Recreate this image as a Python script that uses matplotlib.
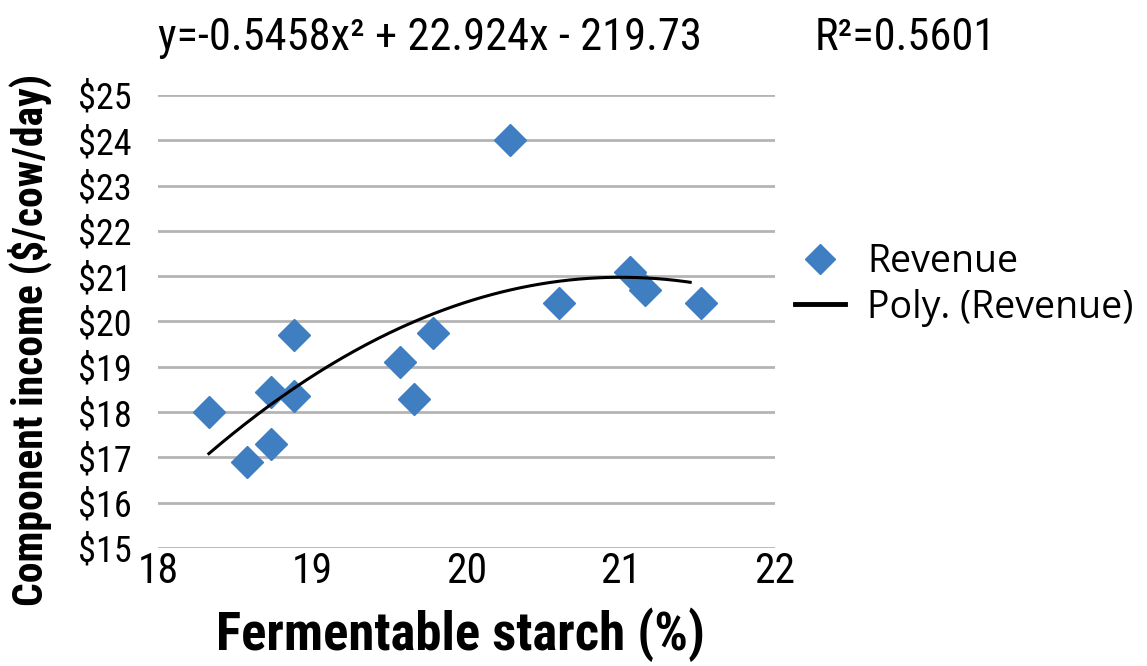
import numpy as np
import matplotlib
matplotlib.use("Agg")
import matplotlib.pyplot as plt
from matplotlib.lines import Line2D

# Data
starch = [18.33, 18.58, 18.73, 18.73, 18.88, 18.88, 19.57, 19.66, 19.78, 20.28, 20.60, 21.06, 21.16, 21.52]
income = [18.0, 16.9, 18.45, 17.3, 18.35, 19.7, 19.1, 18.3, 19.75, 24.0, 20.4, 21.1, 20.7, 20.4]
# Trendline coefficients as printed on the chart (a, b, c)
poly_coef = [-0.5458, 22.924, -219.73]
trend_range = [18.33, 21.45]
r2_text = "R²=0.5601"
x_ticks = [18, 19, 20, 21, 22]
y_ticks = [15, 16, 17, 18, 19, 20, 21, 22, 23, 24, 25]

cond = dict(family=['Roboto Condensed', 'DejaVu Sans'])
bold = dict(family=['Roboto Condensed', 'DejaVu Sans'], fontweight='bold')
legfont = ['Open Sans', 'DejaVu Sans']
blue = '#3F7EC0'

fig = plt.figure(figsize=(11.47, 6.66), dpi=100)
ax = fig.add_axes([158/1147, 1-548/666, (775-158)/1147, (548-95)/666])

ax.plot(starch, income, linestyle='none', marker='D', ms=16.5, color=blue, zorder=3)
xs = np.linspace(trend_range[0], trend_range[1], 200)
ax.plot(xs, np.polyval(poly_coef, xs), color='black', lw=2.2, zorder=4)

ax.set_xlim(18, 22)
ax.set_ylim(15, 25)
ax.set_xticks(x_ticks)
ax.set_yticks(y_ticks)
ax.set_xticklabels([str(t) for t in x_ticks], fontsize=30, **cond)
ax.set_yticklabels([f"${t}" for t in y_ticks], fontsize=26, **cond)
ax.tick_params(axis='y', length=0, pad=19)
ax.tick_params(axis='x', length=0, pad=2)
for s in ax.spines.values():
    s.set_visible(False)
ax.yaxis.grid(True, color='#B4B4B4', lw=2)
ax.set_axisbelow(True)

fig.text(460/1147, 1-635/666, "Fermentable starch (%)", fontsize=38,
         ha='center', va='center', **bold)
fig.text(30/1147, 1-340/666, "Component income ($/cow/day)", rotation=90,
         fontsize=30, ha='center', va='center', **bold)

eq = f"y={poly_coef[0]}x² + {poly_coef[1]}x - {abs(poly_coef[2])}"
fig.text(158/1147, 1-38/666, eq, fontsize=32, ha='left', va='center', **cond)
fig.text(815/1147, 1-38/666, r2_text, fontsize=32, ha='left', va='center', **cond)

handles = [Line2D([], [], linestyle='none', marker='D', ms=15, color=blue),
           Line2D([], [], color='black', lw=3.5)]
fig.legend(handles, ["Revenue", "Poly. (Revenue)"], loc='upper left',
           bbox_to_anchor=(795/1147, 1-243/666), frameon=False,
           prop={'family': legfont, 'size': 27}, handlelength=1.33,
           handletextpad=0.6, labelspacing=0.2, borderpad=0, borderaxespad=0)

fig.savefig("out.png", dpi=100)
